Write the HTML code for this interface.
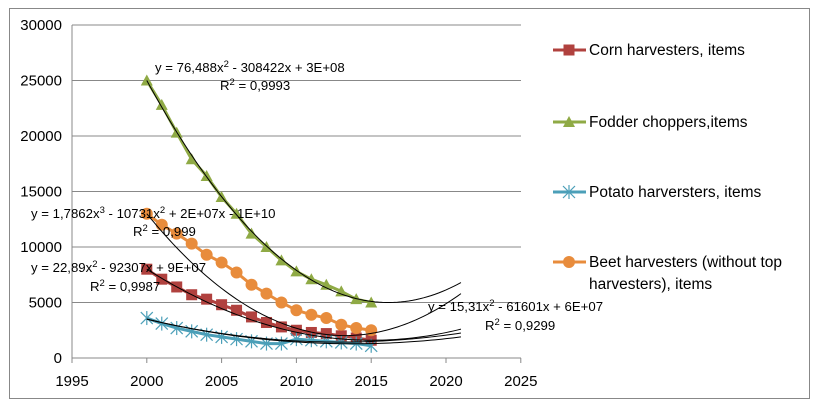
<!DOCTYPE html><html><head><meta charset="utf-8"><style>body{margin:0;background:#fff}svg{display:block;font-family:"Liberation Sans",sans-serif}</style></head><body>
<svg id="s" width="821" height="406" xmlns="http://www.w3.org/2000/svg"></svg>
<script>
const X=y=>72+(y-1995)*14.96, Y=v=>358-v*0.0111;
let h='<rect x="9.5" y="8.5" width="800" height="390" fill="#fff" stroke="#888"/>';
for(let v=0;v<=30000;v+=5000){h+=`<line x1="72" x2="521" y1="${Y(v)}" y2="${Y(v)}" stroke="#888" stroke-width="1"/>`;h+=`<text x="62" y="${Y(v)+5}" font-size="15" text-anchor="end">${v}</text>`;}
h+=`<line x1="72" x2="72" y1="${Y(30000)}" y2="358" stroke="#888"/>`;
for(let y=1995;y<=2025;y+=5){h+=`<line x1="${X(y)}" x2="${X(y)}" y1="358" y2="363" stroke="#888"/><text x="${X(y)}" y="386" font-size="15" text-anchor="middle">${y}</text>`;}
const S=[
{c:'#b0413e',m:'sq',d:[8000,7100,6400,5700,5300,4800,4300,3700,3200,2800,2500,2300,2200,2000,1800,1600]},
{c:'#8faa45',m:'tri',d:[25000,22800,20300,17900,16400,14500,13000,11200,10000,8800,7800,7100,6600,6000,5300,5000]},
{c:'#4b9fb8',m:'star',d:[3600,3100,2700,2400,2100,1900,1700,1500,1300,1300,1700,1600,1500,1400,1300,1100]},
{c:'#e88c3c',m:'dot',d:[13000,12000,11200,10300,9300,8600,7700,6600,5800,5000,4300,3900,3600,3000,2700,2500]}];
function mk(m,x,y,c){if(m=='sq')return `<rect x="${x-5.5}" y="${y-5.5}" width="11" height="11" fill="${c}"/>`;
if(m=='tri')return `<polygon points="${x},${y-6} ${x-6},${y+5} ${x+6},${y+5}" fill="${c}"/>`;
if(m=='dot')return `<circle cx="${x}" cy="${y}" r="6" fill="${c}"/>`;
return `<g stroke="${c}" stroke-width="1.2"><line x1="${x-6}" y1="${y-6}" x2="${x+6}" y2="${y+6}"/><line x1="${x-6}" y1="${y+6}" x2="${x+6}" y2="${y-6}"/><line x1="${x}" y1="${y-7}" x2="${x}" y2="${y+7}"/></g>`;}
S.forEach(s=>{h+=`<polyline fill="none" stroke="${s.c}" stroke-width="3" points="${s.d.map((v,i)=>X(2000+i)+','+Y(v)).join(' ')}"/>`;s.d.forEach((v,i)=>h+=mk(s.m,X(2000+i),Y(v),s.c));});
function lag(P,t){let s=0;for(let i=0;i<3;i++){let l=P[i][1];for(let j=0;j<3;j++)if(j!=i)l*=(t-P[j][0])/(P[i][0]-P[j][0]);s+=l;}return s;}
const TR=[[[0,25000],[16,5000],[21,6800]],[[0,13000],[16,2500],[21,5800]],[[0,8000],[15,1600],[21,2600]],[[0,3500],[14,1450],[21,2250]],[[0,3500],[15,1300],[21,1900]]];
TR.forEach(P=>{let p=[];for(let t=0;t<=21;t+=0.25)p.push(X(2000+t)+','+Y(lag(P,t)));h+=`<polyline fill="none" stroke="#000" stroke-width="1" points="${p.join(' ')}"/>`;});
const T=(x,y,s)=>h+=`<text x="${x}" y="${y}" font-size="13.2">${s}</text>`;
const sup=n=>`<tspan dy="-5" font-size="9.5">${n}</tspan><tspan dy="5">`;
T(155,72,'y = 76,488x'+sup(2)+' - 308422x + 3E+08</tspan>');T(220,90,'R'+sup(2)+' = 0,9993</tspan>');
T(31,218,'y = 1,7862x'+sup(3)+' - 10731x</tspan>'+sup(2)+' + 2E+07x - 1E+10</tspan>');T(133,236,'R'+sup(2)+' = 0,999</tspan>');
T(31,272,'y = 22,89x'+sup(2)+' - 92307x + 9E+07</tspan>');T(90,291,'R'+sup(2)+' = 0,9987</tspan>');
T(428,311,'y = 15,31x'+sup(2)+' - 61601x + 6E+07</tspan>');T(485,330,'R'+sup(2)+' = 0,9299</tspan>');
const L=[[50,'Corn harvesters, items'],[122,'Fodder choppers,items'],[192,'Potato harversters, items'],[262,'Beet harvesters (without top']];
L.forEach((l,i)=>{const s=S[i];h+=`<line x1="553" x2="586" y1="${l[0]}" y2="${l[0]}" stroke="${s.c}" stroke-width="3"/>`+mk(s.m,569,l[0],s.c);h+=`<text x="589" y="${l[0]+5}" font-size="15.5">${l[1]}</text>`;});
h+=`<text x="589" y="289" font-size="15.5">harvesters), items</text>`;
document.getElementById('s').innerHTML=h;
</script></body></html>
